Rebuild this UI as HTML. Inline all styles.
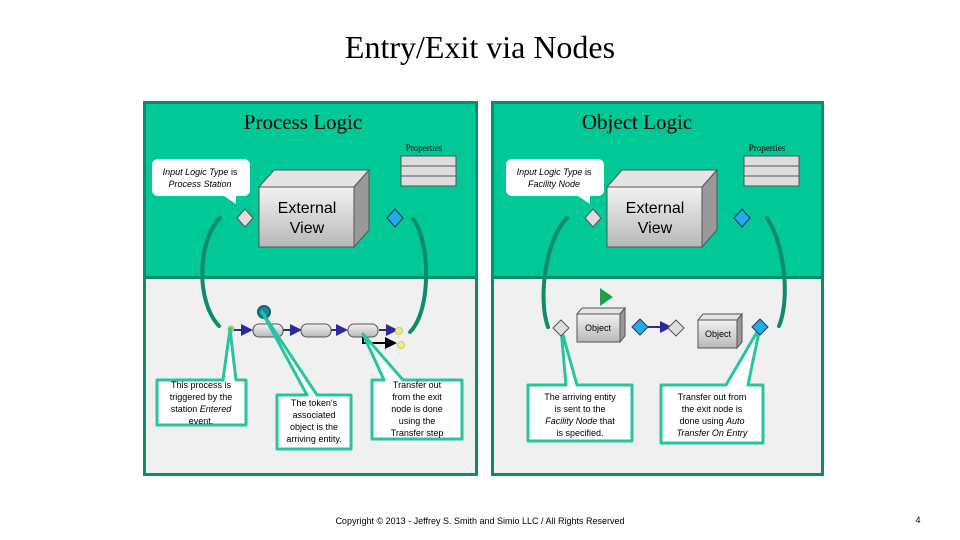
<!DOCTYPE html>
<html><head><meta charset="utf-8"><style>
body{margin:0;width:960px;height:540px;background:#fff;overflow:hidden}
svg{display:block}
.s{font-family:"Liberation Sans",sans-serif;font-size:9px;fill:#000}
.r{font-family:"Liberation Serif",serif}
</style></head><body>
<svg width="960" height="540" viewBox="0 0 960 540">
<defs>
<linearGradient id="gf" x1="0" y1="0" x2="0" y2="1"><stop offset="0" stop-color="#f2f2f2"/><stop offset="1" stop-color="#b8b8b8"/></linearGradient>
<marker id="ab" markerWidth="6" markerHeight="6" refX="5" refY="3" orient="auto"><path d="M0,0L6,3L0,6z" fill="#2a2a9a"/></marker>
<marker id="ak" markerWidth="6" markerHeight="6" refX="5" refY="3" orient="auto"><path d="M0,0L6,3L0,6z" fill="#000"/></marker>
<g id="box">
<path d="M0,0 L15,-17 L110,-17 L95,0z" fill="#e4e4e4" stroke="#555"/>
<path d="M95,0 L110,-17 L110,43 L95,60z" fill="#999" stroke="#555"/>
<rect x="0" y="0" width="95" height="60" fill="url(#gf)" stroke="#555"/>
</g>
<g id="props">
<rect x="0" y="0" width="55" height="10" fill="#ddd" stroke="#555"/>
<rect x="0" y="10" width="55" height="10" fill="#ddd" stroke="#555"/>
<rect x="0" y="20" width="55" height="10" fill="#ddd" stroke="#555"/>
</g>
</defs>
<text x="480" y="58" text-anchor="middle" class="r" font-size="32">Entry/Exit via Nodes</text>
<!-- Panels -->
<rect x="144.5" y="102.5" width="332" height="175" fill="#00c896" stroke="#0e8a6c" stroke-width="3"/>
<rect x="144.5" y="277.5" width="332" height="197" fill="#f0f0f0" stroke="#0e8a6c" stroke-width="3"/>
<rect x="492.5" y="102.5" width="330" height="175" fill="#00c896" stroke="#0e8a6c" stroke-width="3"/>
<rect x="492.5" y="277.5" width="330" height="197" fill="#f0f0f0" stroke="#0e8a6c" stroke-width="3"/>
<text x="303" y="129" text-anchor="middle" class="r" font-size="21">Process Logic</text>
<text x="637" y="129" text-anchor="middle" class="r" font-size="21">Object Logic</text>
<!-- Left top -->
<text x="424" y="151" text-anchor="middle" class="r" font-size="9">Properties</text>
<use href="#props" x="401" y="156"/>
<text x="767" y="151" text-anchor="middle" class="r" font-size="9">Properties</text>
<use href="#props" x="744" y="156"/>
<path d="M158,159 h86 a6,6 0 0 1 6,6 v25 a6,6 0 0 1 -6,6 h-8 l0,8 l-12,-8 h-66 a6,6 0 0 1 -6,-6 v-25 a6,6 0 0 1 6,-6z" fill="#fff"/>
<text x="200" y="175" text-anchor="middle" class="s" font-style="italic">Input Logic Type <tspan font-style="normal">is</tspan></text>
<text x="200" y="187" text-anchor="middle" class="s" font-style="italic">Process Station</text>
<path d="M512,159 h86 a6,6 0 0 1 6,6 v25 a6,6 0 0 1 -6,6 h-8 l0,8 l-12,-8 h-66 a6,6 0 0 1 -6,-6 v-25 a6,6 0 0 1 6,-6z" fill="#fff"/>
<text x="554" y="175" text-anchor="middle" class="s" font-style="italic">Input Logic Type <tspan font-style="normal">is</tspan></text>
<text x="554" y="187" text-anchor="middle" class="s" font-style="italic">Facility Node</text>
<use href="#box" x="259" y="187"/>
<use href="#box" x="607" y="187"/>
<text x="307" y="213" text-anchor="middle" font-family="Liberation Sans,sans-serif" font-size="16">External</text>
<text x="307" y="233" text-anchor="middle" font-family="Liberation Sans,sans-serif" font-size="16">View</text>
<text x="655" y="213" text-anchor="middle" font-family="Liberation Sans,sans-serif" font-size="16">External</text>
<text x="655" y="233" text-anchor="middle" font-family="Liberation Sans,sans-serif" font-size="16">View</text>
<path d="M245,209 l8,9 l-8,9 l-8,-9z" fill="#ddd" stroke="#555"/>
<path d="M395,209 l8,9 l-8,9 l-8,-9z" fill="#22aaee" stroke="#335"/>
<path d="M593,209 l8,9 l-8,9 l-8,-9z" fill="#ddd" stroke="#555"/>
<path d="M742,209 l8,9 l-8,9 l-8,-9z" fill="#22aaee" stroke="#335"/>
<!-- curved arrows -->
<g fill="none" stroke="#0e8a6c" stroke-width="4" stroke-linecap="round">
<path d="M220,218 C198,240 195,300 219,326"/>
<path d="M413,219 C430,240 432,310 410,332"/>
<path d="M567,218 C545,240 538,300 548,327"/>
<path d="M767,218 C785,245 790,300 779,326"/>
</g>
<!-- process row -->
<circle cx="231" cy="329" r="3.5" fill="#9c4" stroke="#cda"/>
<g stroke="#2a2a9a" stroke-width="2" marker-end="url(#ab)">
<line x1="234" y1="330" x2="251" y2="330"/><line x1="283" y1="330" x2="300" y2="330"/><line x1="331" y1="330" x2="346" y2="330"/><line x1="379" y1="330" x2="396" y2="330"/>
</g>
<rect x="253" y="324" width="30" height="13" rx="6" fill="url(#gf)" stroke="#555"/>
<rect x="301" y="324" width="30" height="13" rx="6" fill="url(#gf)" stroke="#555"/>
<rect x="348" y="324" width="30" height="13" rx="6" fill="url(#gf)" stroke="#555"/>
<path d="M363,337 v6 h32" fill="none" stroke="#000" stroke-width="2" marker-end="url(#ak)"/>
<circle cx="399" cy="331" r="3.5" fill="#ee8" stroke="#cc6"/>
<circle cx="401" cy="345" r="3.5" fill="#ee8" stroke="#cc6"/>
<circle cx="264" cy="312" r="6" fill="#1a8a9a" stroke="#0e6a6c" stroke-width="2"/>
<!-- callouts left -->
<g fill="#fff" stroke="#27c4a0" stroke-width="3" stroke-linejoin="round">
<path d="M157,380 h66 l7,-51 l6,51 h10 v45 h-89z"/>
<path d="M277,395 h30 l-45,-83 l55,83 h34 v54 h-74z"/>
<path d="M372,380 h12 l-21,-46 l40,46 h59 v59 h-90z"/>
<path d="M528,385 h38 l-5,-57 l16,57 h55 v56 h-104z"/>
<path d="M661,385 h65 l34,-58 l-12,58 h15 v58 h-102z"/>
</g>
<g class="s" text-anchor="middle">
<text x="201" y="388">This process is</text><text x="201" y="400">triggered by the</text><text x="201" y="412">station <tspan font-style="italic">Entered</tspan></text><text x="201" y="424">event.</text>
<text x="314" y="406">The token's</text><text x="314" y="418">associated</text><text x="314" y="430">object is the</text><text x="314" y="442">arriving entity.</text>
<text x="417" y="388">Transfer out</text><text x="417" y="400">from the exit</text><text x="417" y="412">node is done</text><text x="417" y="424">using the</text><text x="417" y="436">Transfer step</text>
<text x="580" y="400">The arriving entity</text><text x="580" y="412">is sent to the</text><text x="580" y="424"><tspan font-style="italic">Facility Node</tspan> that</text><text x="580" y="436">is specified.</text>
<text x="712" y="400">Transfer out from</text><text x="712" y="412">the exit node is</text><text x="712" y="424">done using <tspan font-style="italic">Auto</tspan></text><text x="712" y="436" font-style="italic">Transfer On Entry</text>
</g>
<!-- right row -->
<path d="M600,288 l13,9 l-13,9z" fill="#1ea050"/>
<path d="M561,320 l8,8 l-8,8 l-8,-8z" fill="#ddd" stroke="#555"/>
<path d="M577,314 l5,-6 h43 l-5,6z" fill="#e4e4e4" stroke="#555"/>
<path d="M620,314 l5,-6 v28 l-5,6z" fill="#999" stroke="#555"/>
<rect x="577" y="314" width="43" height="28" fill="url(#gf)" stroke="#555"/>
<text x="598" y="331" text-anchor="middle" class="s" font-size="7">Object</text>
<path d="M640,319 l8,8 l-8,8 l-8,-8z" fill="#22aaee" stroke="#335"/>
<line x1="648" y1="327" x2="670" y2="327" stroke="#2a2a9a" stroke-width="2" marker-end="url(#ab)"/>
<path d="M676,320 l8,8 l-8,8 l-8,-8z" fill="#ddd" stroke="#555"/>
<path d="M698,320 l5,-6 h39 l-5,6z" fill="#e4e4e4" stroke="#555"/>
<path d="M737,320 l5,-6 v28 l-5,6z" fill="#999" stroke="#555"/>
<rect x="698" y="320" width="39" height="28" fill="url(#gf)" stroke="#555"/>
<text x="718" y="337" text-anchor="middle" class="s" font-size="7">Object</text>
<path d="M760,319 l8,8 l-8,8 l-8,-8z" fill="#22aaee" stroke="#335"/>
<text x="480" y="524" text-anchor="middle" font-family="Liberation Sans,sans-serif" font-size="9">Copyright © 2013 - Jeffrey S. Smith and Simio LLC / All Rights Reserved</text>
<text x="918" y="523" text-anchor="middle" font-family="Liberation Sans,sans-serif" font-size="9">4</text>
</svg>
</body></html>
